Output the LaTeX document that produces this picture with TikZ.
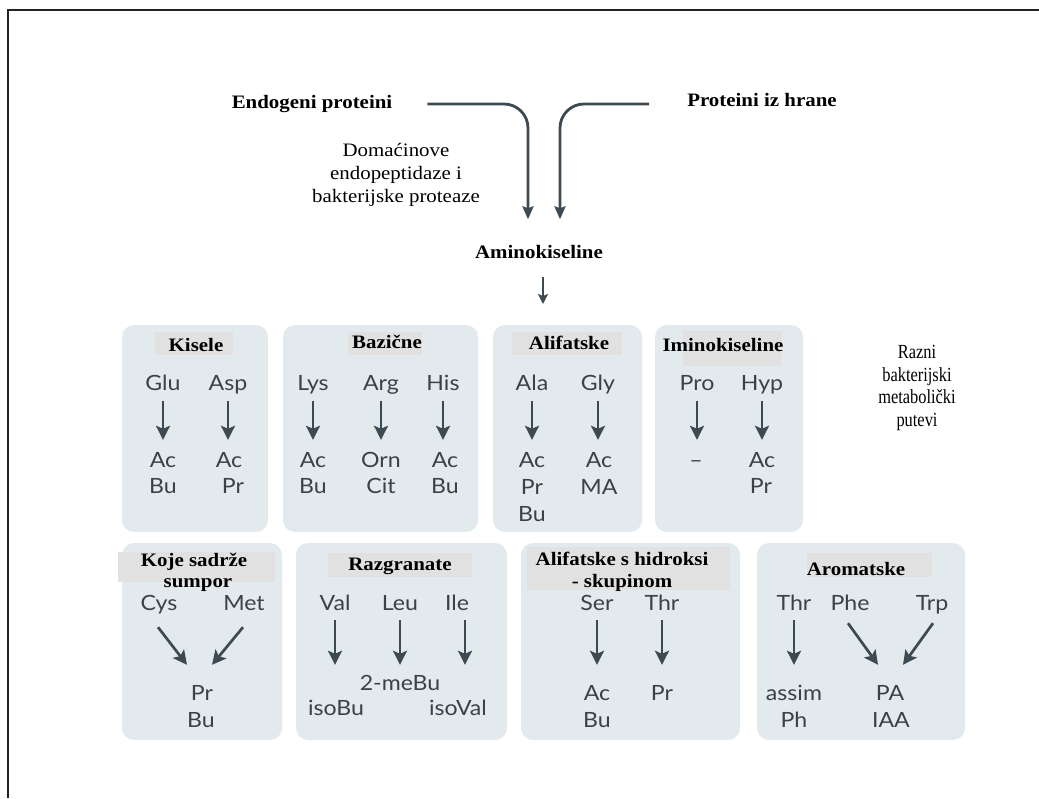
\documentclass[tikz,border=0pt]{standalone}
\usepackage{fontspec}
\setmainfont{Liberation Serif}[FakeStretch=1.1]
\newfontfamily\narrowserif{Liberation Serif}[FakeStretch=0.82]
\newfontfamily\aafont{Lato}[FakeStretch=1.1]
\usetikzlibrary{arrows.meta}
\definecolor{boxc}{RGB}{227,234,237}
\definecolor{labc}{RGB}{225,225,225}
\definecolor{arrc}{RGB}{62,74,82}
\definecolor{aac}{RGB}{58,66,72}
\definecolor{framec}{RGB}{34,34,34}
\begin{document}
\begin{tikzpicture}[x=1pt,y=-1pt,
 grp/.style={fill=boxc, rounded corners=12pt},
 lab/.style={fill=labc},
 head/.style={font=\fontsize{19}{22}\selectfont\bfseries, inner sep=0pt, text height=13pt, text depth=0pt},
 note/.style={font=\fontsize{19}{23}\selectfont, align=center, inner sep=0pt},
 aa/.style={font=\aafont\fontsize{21}{25}\selectfont, text=aac, inner sep=0pt, text height=14pt, text depth=4pt, anchor=base},
 arr/.style={draw=arrc, line width=2.7pt, -{Stealth[length=14pt,width=14pt,inset=3pt]}},
 bigarr/.style={draw=arrc, line width=2.8pt, -{Stealth[length=13pt,width=11pt,inset=2pt]}},
 smallarr/.style={draw=arrc, line width=2pt, -{Stealth[length=10pt,width=10pt,inset=2pt]}},
]
\useasboundingbox (0,0) rectangle (1039,798);
\draw[framec, line width=2.5pt] (1039,10) -- (8,10) -- (8,798);

% top part
\node[head] (endo) at (312,101.5) {Endogeni proteini};
\node[head] (hrana) at (762,100) {Proteini iz hrane};
\node[head] (amino) at (539,251.5) {Aminokiseline};
\node[note] (enzimi) at (396,175) {Domaćinove\\endopeptidaze i\\bakterijske proteaze};
\node[note, font=\narrowserif\fontsize{20}{22.5}\selectfont] (razni) at (917,388) {Razni\\bakterijski\\metabolički\\putevi};

\draw[bigarr, rounded corners=24pt] ([xshift=35pt,yshift=-2.5pt]endo.east) -| ([xshift=-11pt,yshift=25.5pt]amino.north);
\draw[bigarr, rounded corners=24pt] ([xshift=-38pt,yshift=-4pt]hrana.west) -| ([xshift=21pt,yshift=25.5pt]amino.north);
\coordinate (grupe) at (543,304);
\draw[smallarr] ([yshift=-19pt]amino.south -| grupe) -- (grupe);

% group boxes row 1
\fill[grp] (122,325) rectangle (268,532);
\fill[grp] (283,325) rectangle (478,532);
\fill[grp] (493,325) rectangle (642,532);
\fill[grp] (655,325) rectangle (803,532);
% group boxes row 2
\fill[grp] (122,543) rectangle (282,740);
\fill[grp] (296,543) rectangle (507,740);
\fill[grp] (521,543) rectangle (740,740);
\fill[grp] (757,543) rectangle (965,740);

% label backgrounds
\fill[lab] (155,332) rectangle (233,355);
\fill[lab] (348,332) rectangle (422,355);
\fill[lab] (512,332) rectangle (622,355);
\fill[lab] (683,331) rectangle (782,366);
\fill[lab] (118,552) rectangle (275,582);
\fill[lab] (328,553) rectangle (472,577);
\fill[lab] (527,547) rectangle (730,590);
\fill[lab] (807,553) rectangle (932,577);

% labels
\node[head] (hKis) at (196,344.5) {Kisele};
\node[head] (hBaz) at (387,342) {Bazične};
\node[head] (hAli) at (569,343) {Alifatske};
\node[head] (hImi) at (723,345) {Iminokiseline};
\node[head] (hKoje) at (194,560) {Koje sadrže};
\node[head] (hSum) at (198,581) {sumpor};
\node[head] (hRaz) at (400,563.5) {Razgranate};
\node[head] (hHid) at (622,558.5) {Alifatske s hidroksi};
\node[head] (hSku) at (622,581) {- skupinom};
\node[head] (hAro) at (856,568.5) {Aromatske};

% Kisele
\node[aa] (glu) at (163,390) {Glu};
\node[aa] (glu1) at (163,467) {Ac};
\node[aa] (glu2) at (163,493) {Bu};
\node[aa] (asp) at (228,390) {Asp};
\node[aa] (asp1) at (229,467) {Ac};
\node[aa] (asp2) at (233,493) {Pr};
\draw[arr] ([yshift=-7pt]glu.south) -- ([yshift=13pt]glu1.north);
\draw[arr] ([yshift=-7pt]asp.south) -- ([yshift=13pt]asp.south |- asp1.north);

% Bazicne
\node[aa] (lys) at (313,390) {Lys};
\node[aa] (lys1) at (313,467) {Ac};
\node[aa] (lys2) at (313,493) {Bu};
\node[aa] (arg) at (381,390) {Arg};
\node[aa] (arg1) at (381,467) {Orn};
\node[aa] (arg2) at (381,493) {Cit};
\node[aa] (his) at (443,390) {His};
\node[aa] (his1) at (445,467) {Ac};
\node[aa] (his2) at (445,493) {Bu};
\draw[arr] ([yshift=-7pt]lys.south) -- ([yshift=13pt]lys1.north);
\draw[arr] ([yshift=-7pt]arg.south) -- ([yshift=13pt]arg1.north);
\draw[arr] ([yshift=-7pt]his.south) -- ([yshift=13pt]his.south |- his1.north);

% Alifatske
\node[aa] (ala) at (532,390) {Ala};
\node[aa] (ala1) at (532,467) {Ac};
\node[aa] (ala2) at (532,494) {Pr};
\node[aa] (ala3) at (532,521) {Bu};
\node[aa] (gly) at (598,390) {Gly};
\node[aa] (gly1) at (599,467) {Ac};
\node[aa] (gly2) at (599,494) {MA};
\draw[arr] ([yshift=-7pt]ala.south) -- ([yshift=13pt]ala1.north);
\draw[arr] ([yshift=-7pt]gly.south) -- ([yshift=13pt]gly.south |- gly1.north);

% Iminokiseline
\node[aa] (pro) at (697,390) {Pro};
\node[aa] (pro1) at (696,467) {–};
\node[aa] (hyp) at (762,390) {Hyp};
\node[aa] (hyp1) at (762,467) {Ac};
\node[aa] (hyp2) at (761,493) {Pr};
\draw[arr] ([yshift=-7pt]pro.south) -- ([yshift=13pt]pro.south |- pro1.north);
\draw[arr] ([yshift=-7pt]hyp.south) -- ([yshift=13pt]hyp1.north);

% Koje sadrze sumpor
\node[aa] (cys) at (159,610) {Cys};
\node[aa] (met) at (244,610) {Met};
\node[aa] (sp1) at (202,700) {Pr};
\node[aa] (sp2) at (201,727) {Bu};
\draw[arr] ([xshift=-1pt,yshift=-13pt]cys.south) -- ([xshift=-15pt,yshift=21pt]sp1.north);
\draw[arr] ([xshift=-1pt,yshift=-13pt]met.south) -- ([xshift=10pt,yshift=21pt]sp1.north);

% Razgranate
\node[aa] (val) at (335,610) {Val};
\node[aa] (leu) at (400,610) {Leu};
\node[aa] (ile) at (457,610) {Ile};
\node[aa] (meBu) at (400,690) {2-meBu};
\node[aa] (isoBu) at (336,715) {isoBu};
\node[aa] (isoVal) at (458,715) {isoVal};
\draw[arr] ([yshift=-6pt]val.south) -- ([yshift=36pt]val.south |- isoBu.north);
\draw[arr] ([yshift=-6pt]leu.south) -- ([yshift=11pt]meBu.north);
\draw[arr] ([xshift=8pt,yshift=-6pt]ile.south) -- ([xshift=7pt,yshift=36pt]isoVal.north);

% Alifatske s hidroksi-skupinom
\node[aa] (ser) at (597,610) {Ser};
\node[aa] (ser1) at (597,700) {Ac};
\node[aa] (ser2) at (597,727) {Bu};
\node[aa] (thr) at (662,610) {Thr};
\node[aa] (thr1) at (662,700) {Pr};
\draw[arr] ([yshift=-6pt]ser.south) -- ([yshift=21pt]ser1.north);
\draw[arr] ([yshift=-6pt]thr.south) -- ([yshift=21pt]thr1.north);

% Aromatske
\node[aa] (thrb) at (794,610) {Thr};
\node[aa] (assim) at (794,700) {assim};
\node[aa] (ph) at (794,727) {Ph};
\node[aa] (phe) at (850,610) {Phe};
\node[aa] (trp) at (932,610) {Trp};
\node[aa] (pa) at (890,700) {PA};
\node[aa] (iaa) at (891,727) {IAA};
\draw[arr] ([yshift=-6pt]thrb.south) -- ([yshift=21pt]assim.north);
\draw[arr] ([xshift=-2pt,yshift=-9pt]phe.south) -- ([xshift=-12pt,yshift=21pt]pa.north);
\draw[arr] ([xshift=1pt,yshift=-9pt]trp.south) -- ([xshift=13pt,yshift=21pt]pa.north);
\end{tikzpicture}
\end{document}
